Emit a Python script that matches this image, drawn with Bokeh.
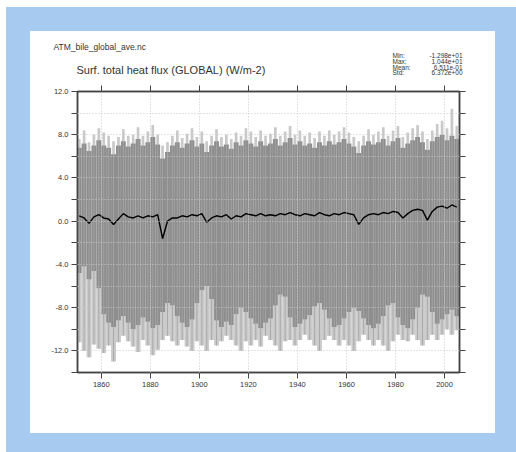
from bokeh.plotting import figure
from bokeh.models import Range1d, FixedTicker, LinearAxis, PrintfTickFormatter, ColumnDataSource, Spacer
from bokeh.layouts import column, row
from bokeh.embed import file_html
from bokeh.resources import INLINE
from bokeh.core.properties import value

# ---- data (2-year bins) ----
bin_start = list(range(1850, 2006, 2))
dark_top = [6.8, 7.2, 6.5, 7.0, 7.5, 7.0, 6.8, 6.2, 7.0, 7.4,
            6.9, 7.2, 7.6, 7.0, 7.3, 7.8, 7.1, 5.8, 6.4, 7.0,
            7.3, 6.8, 7.2, 7.5, 6.9, 7.2, 6.4, 7.0, 7.4, 6.9,
            7.1, 6.7, 7.3, 7.0, 7.5, 7.2, 6.9, 7.4, 7.0, 7.2,
            7.6, 7.0, 7.3, 7.7, 7.1, 7.4, 7.0, 7.2, 6.8, 7.3,
            7.0, 7.4, 7.1, 7.3, 7.6, 7.2, 6.9, 6.3, 7.0, 7.4,
            7.1, 7.3, 7.6, 7.0, 7.4, 7.7, 6.8, 7.2, 7.5, 7.8,
            7.3, 6.6, 7.4, 7.8, 8.0, 7.5, 7.9, 7.6]
light_top = [7.6, 8.4, 7.3, 8.0, 8.6, 8.2, 7.9, 7.4, 7.8, 8.5,
             7.9, 8.0, 8.7, 7.9, 8.3, 8.9, 8.0, 7.0, 7.3, 7.9,
             8.4, 7.7, 8.1, 8.6, 7.8, 8.3, 7.4, 7.9, 8.5, 7.8,
             8.0, 7.6, 8.2, 7.9, 8.6, 8.3, 7.8, 8.4, 7.9, 8.1,
             8.7, 7.9, 8.3, 8.8, 8.0, 8.4, 7.9, 8.2, 7.7, 8.3,
             7.9, 8.4, 8.0, 8.3, 8.7, 8.2, 7.8, 7.4, 7.9, 8.5,
             8.0, 8.3, 8.7, 7.9, 8.4, 8.8, 7.8, 8.2, 8.6, 8.9,
             8.3, 7.6, 8.4, 9.0, 9.3, 8.6, 10.4, 8.8]
dark_bot = [-4.8, -4.2, -5.4, -4.6, -6.2, -8.6, -9.4, -9.8, -9.2, -8.8,
            -9.4, -10.0, -9.6, -8.9, -9.3, -9.9, -9.6, -8.4, -7.6, -7.8,
            -8.8, -9.4, -9.8, -9.1, -7.6, -6.4, -6.0, -7.2, -9.2, -9.8,
            -9.3, -9.6, -8.6, -8.0, -8.4, -9.0, -9.5, -9.9, -9.4, -9.0,
            -7.8, -6.8, -7.0, -8.9, -9.8, -9.5, -9.1, -8.7, -7.9, -7.6,
            -8.2, -9.0, -9.8, -9.6, -9.0, -8.4, -8.0, -8.3, -9.0, -9.6,
            -9.9, -9.5, -8.8, -7.8, -7.6, -8.9, -9.6, -9.9, -9.1, -8.0,
            -6.8, -7.0, -8.4, -9.5, -9.1, -8.6, -8.2, -8.8]
light_bot = [-11.2, -12.0, -12.6, -11.4, -11.8, -12.2, -11.5, -12.98, -11.2, -10.6,
             -11.1, -11.6, -12.1, -11.0, -11.5, -12.4, -11.9, -11.0, -10.6, -11.1,
             -11.5, -11.0, -11.6, -12.0, -11.1, -11.5, -12.0, -11.0, -11.5, -11.1,
             -10.6, -11.0, -11.5, -12.0, -11.1, -11.5, -11.0, -11.6, -10.6, -11.0,
             -11.5, -12.0, -11.1, -11.0, -11.5, -11.0, -10.5, -11.0, -11.5, -12.0,
             -11.0, -10.6, -11.0, -11.5, -11.0, -11.5, -12.0, -11.1, -10.5, -11.0,
             -11.5, -11.0, -11.5, -12.0, -11.1, -10.5, -11.0, -11.1, -10.5, -11.0,
             -11.5, -11.0, -10.5, -11.0, -10.5, -10.0, -10.5, -10.1]
annual_mean = [0.5, 0.3, -0.2, 0.4, 0.6, 0.3, 0.2, -0.3, 0.2, 0.7,
               0.4, 0.3, 0.5, 0.3, 0.5, 0.4, 0.6, -1.6, 0.0, 0.3,
               0.3, 0.5, 0.4, 0.6, 0.5, 0.7, -0.1, 0.3, 0.5, 0.4,
               0.6, 0.2, 0.5, 0.4, 0.7, 0.6, 0.5, 0.7, 0.5, 0.6,
               0.5, 0.7, 0.6, 0.8, 0.6, 0.5, 0.7, 0.6, 0.5, 0.8,
               0.6, 0.5, 0.7, 0.6, 0.8, 0.7, 0.6, -0.3, 0.3, 0.6,
               0.7, 0.6, 0.8, 0.7, 0.9, 0.8, 0.3, 0.7, 1.0, 1.1,
               1.0, 0.1, 0.9, 1.3, 1.4, 1.2, 1.5, 1.3]

x_major = [1860, 1880, 1900, 1920, 1940, 1960, 1980, 2000]
y_major = [-12, -8, -4, 0, 4, 8, 12]
y_minor = [-14, -10, -6, -2, 2, 6, 10]

file_name = "ATM_bile_global_ave.nc"
title_text = "Surf. total heat flux (GLOBAL) (W/m-2)"
stat_names = ["Min:", "Max:", "Mean:", "Std:"]
stat_values = ["-1.298e+01", "1.044e+01", "6.511e-01", "6.372e+00"]

FONT = "Liberation Sans"
BLUE = "#a6caf0"
TXT = "#333333"

# ---------------- header (file name, title, statistics) ----------------
hdr = figure(width=465, height=54, output_backend="svg", toolbar_location=None, title=None,
             x_range=Range1d(0, 465), y_range=Range1d(54, 0),
             x_axis_location=None, y_axis_location=None, min_border=0)
hdr.frame_align = False
hdr.outline_line_color = None
hdr.background_fill_color = "white"
hdr.border_fill_color = "white"
hdr.xgrid.visible = False
hdr.ygrid.visible = False
hdr.text(x=[23], y=[15], text=[file_name], text_font=value(FONT), text_font_size="8.5px",
         text_color=TXT, text_baseline="middle", text_align="left")
hdr.text(x=[46], y=[38], text=[title_text], text_font=value(FONT), text_font_size="11px",
         text_color=TXT, text_baseline="middle", text_align="left")
rows_y = [24, 30, 35.5, 41]
hdr.text(x=[362] * 4, y=rows_y, text=stat_names, text_font=value(FONT), text_font_size="6.5px",
         text_color=TXT, text_baseline="middle", text_align="left")
hdr.text(x=[432] * 4, y=rows_y, text=stat_values, text_font=value(FONT), text_font_size="6.5px",
         text_color=TXT, text_baseline="middle", text_align="right")

# ---------------- main time-series plot ----------------
mid = [b + 1 for b in bin_start]
src = ColumnDataSource(dict(x=mid, dt=dark_top, db=dark_bot, lt=light_top, lb=light_bot, m=annual_mean))

p = figure(width=465, height=348, output_backend="svg", toolbar_location=None, title=None,
           x_range=Range1d(1850.3, 2006.1), y_range=Range1d(-14, 12),
           min_border_left=47, min_border_right=36, min_border_top=6, min_border_bottom=61)
p.frame_align = False
p.border_fill_color = "white"
p.background_fill_color = "white"
p.outline_line_color = "#444444"
p.outline_line_width = 1.5

# light-grey extremes: thin spikes on top, full columns below
p.vbar(x="x", width=1.1, top="lt", bottom="dt", source=src, fill_color="#c9c9c9", line_color=None)
p.vbar(x="x", width=2.0, top="db", bottom="lb", source=src, fill_color="#cbcbcb", line_color=None)
p.segment(x0="x", x1="x", y0="lb", y1="db", source=src, line_color="#a9a9a9", line_width=1)
# dark-grey bulk of the monthly series
p.vbar(x="x", width=2.0, top="dt", bottom="db", source=src, fill_color="#8e8e8e", line_color=None)
p.segment(x0="x", x1="x", y0="db", y1="dt", source=src, line_color="#a3a3a3", line_width=1)
# annual mean
p.line(x="x", y="m", source=src, line_color="black", line_width=1.4)

def style(ax, labels):
    ax.axis_line_color = "#444444"
    ax.axis_line_width = 1.5
    ax.major_tick_line_color = "#444444"
    ax.minor_tick_line_color = "#444444"
    ax.major_tick_out = 6
    ax.major_tick_in = 0
    ax.minor_tick_out = 6
    ax.minor_tick_in = 0
    ax.major_label_text_font = FONT
    if labels:
        ax.major_label_text_font_size = "7.5px"
        ax.major_label_text_color = TXT
    else:
        ax.major_label_text_font_size = "0px"
        ax.major_label_text_color = None
        ax.major_label_standoff = 0

p.xaxis.ticker = FixedTicker(ticks=x_major)
p.yaxis.ticker = FixedTicker(ticks=y_major, minor_ticks=y_minor)
p.yaxis.formatter = PrintfTickFormatter(format="%.1f")
p.xaxis.major_label_standoff = 3
p.yaxis.major_label_standoff = 3
style(p.xaxis[0], True)
style(p.yaxis[0], True)
p.xaxis.minor_tick_line_color = None

top_ax = LinearAxis(ticker=FixedTicker(ticks=x_major))
right_ax = LinearAxis(ticker=FixedTicker(ticks=y_major, minor_ticks=y_minor))
style(top_ax, False)
style(right_ax, False)
top_ax.minor_tick_line_color = None
p.add_layout(top_ax, "above")
p.add_layout(right_ax, "right")

p.xgrid.ticker = FixedTicker(ticks=x_major)
p.ygrid.ticker = FixedTicker(ticks=y_major + y_minor)
for g in (p.xgrid[0], p.ygrid[0]):
    g.grid_line_color = "#c8c8c8"
    g.grid_line_dash = "1 2"
    g.grid_line_width = 1
    g.level = "annotation"

# ---------------- framing: blue surround with white panel ----------------
panel = column(hdr, p, spacing=0, styles={"background-color": "white"})
blue_block = column(
    Spacer(width=510, height=24),
    row(Spacer(width=24, height=402), panel, Spacer(width=21, height=402), spacing=0),
    Spacer(width=510, height=19),
    spacing=0,
    styles={"background-color": BLUE},
)
page = column(Spacer(width=516, height=7), row(Spacer(width=6, height=445), blue_block, spacing=0), spacing=0)

open("out.html", "w").write(file_html(page, INLINE))
